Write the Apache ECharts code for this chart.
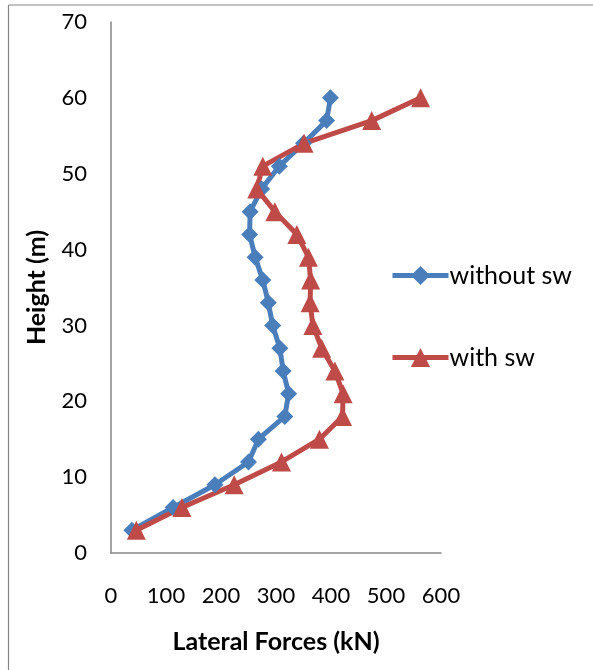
<!DOCTYPE html>
<html>
<head>
<meta charset="utf-8">
<script src="https://cdn.jsdelivr.net/npm/echarts@6/dist/echarts.min.js"></script>
<style>
  html, body { margin: 0; padding: 0; background: #fff; }
  #chart { width: 593px; height: 670px; }
</style>
</head>
<body>
<div id="chart"></div>
<script>
const heights = [3, 6, 9, 12, 15, 18, 21, 24, 27, 30, 33, 36, 39, 42, 45, 48, 51, 54, 57, 60]
const withoutSw = [38, 113, 189, 250, 268, 316, 323, 313, 307, 294, 286, 276, 262, 252, 253, 274, 306, 350, 392, 399]
const withSw = [46, 129, 224, 310, 379, 421, 422, 407, 383, 367, 362, 363, 359, 338, 298, 265, 276, 351, 474, 563]

const font = 'Lato, "Open Sans", sans-serif'
const axisGray = '#868686'

const chart = echarts.init(document.getElementById('chart'))

chart.setOption({
  animation: false,
  textStyle: { fontFamily: font },
  grid: { left: 111, right: 152, top: 22, bottom: 117 },
  legend: {
    orient: 'vertical', left: 385, top: 258,
    itemWidth: 56, itemHeight: 24, itemGap: 57,
    lineStyle: { width: 5 },
    textStyle: { fontSize: 25, color: '#000', fontFamily: font, padding: [0, 0, 0, -4] },
    data: ['without sw', 'with sw'],
  },
  xAxis: {
    type: 'value', min: 0, max: 600, interval: 100,
    name: 'Lateral Forces (kN)', nameLocation: 'middle', nameGap: 76,
    nameTextStyle: { fontSize: 25, fontWeight: 'bold', color: '#000', fontFamily: font },
    axisLine: { show: true, lineStyle: { color: axisGray, width: 1.5 } },
    axisTick: { show: false },
    axisLabel: { fontSize: 22, color: '#000', margin: 32, fontFamily: font },
    splitLine: { show: false },
  },
  yAxis: {
    type: 'value', min: 0, max: 70, interval: 10,
    name: 'Height (m)', nameLocation: 'middle', nameGap: 62,
    nameTextStyle: { fontSize: 25, fontWeight: 'bold', color: '#000', fontFamily: font },
    axisLine: { show: true, lineStyle: { color: axisGray, width: 1.5 } },
    axisTick: { show: false },
    axisLabel: { fontSize: 22, color: '#000', margin: 24, fontFamily: font },
    splitLine: { show: false },
  },
  graphic: [
    { type: 'line', shape: { x1: 8.5, y1: 5, x2: 8.5, y2: 670 }, style: { stroke: axisGray, lineWidth: 1.2 } },
    { type: 'line', shape: { x1: 8.5, y1: 5, x2: 593, y2: 5 }, style: { stroke: axisGray, lineWidth: 1.2 } },
  ],
  series: [
    {
      name: 'without sw', type: 'line',
      data: heights.map((h, i) => [withoutSw[i], h]),
      symbol: 'diamond', symbolSize: 17,
      lineStyle: { width: 5, color: '#4A7EBB' },
      itemStyle: { color: '#4A7EBB' },
    },
    {
      name: 'with sw', type: 'line',
      data: heights.map((h, i) => [withSw[i], h]),
      symbol: 'triangle', symbolSize: 19,
      lineStyle: { width: 5, color: '#BE4B48' },
      itemStyle: { color: '#BE4B48' },
    },
  ],
})
</script>
</body>
</html>
